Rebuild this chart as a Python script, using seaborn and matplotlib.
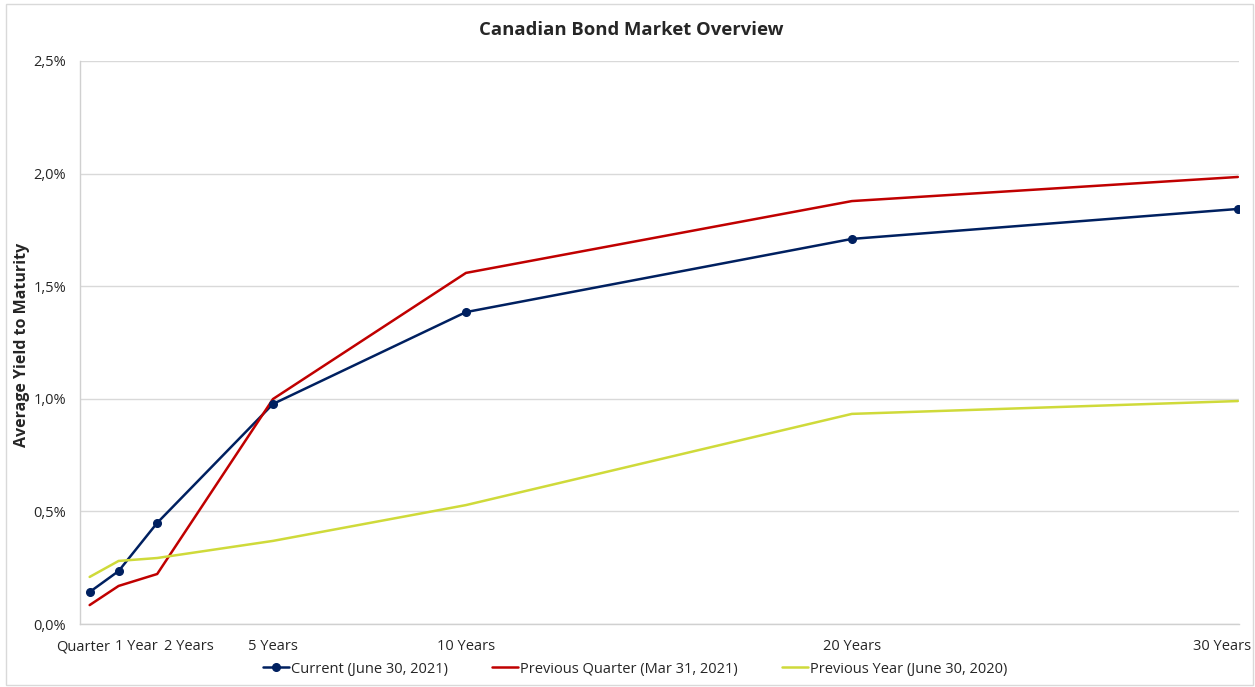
import pandas as pd
import matplotlib.pyplot as plt
import matplotlib.transforms as mtransforms
import seaborn as sns
from matplotlib.ticker import FuncFormatter
from matplotlib.patches import Rectangle

# Maturities in years and their tick labels
maturities = [0.25, 1, 2, 5, 10, 20, 30]
tick_labels = ['Quarter', '1 Year', '2 Years', '5 Years', '10 Years', '20 Years', '30 Years']

# Average yield to maturity (%)
current = [0.142, 0.235, 0.449, 0.977, 1.385, 1.710, 1.843]
previous_quarter = [0.084, 0.169, 0.222, 0.999, 1.559, 1.878, 1.985]
previous_year = [0.209, 0.280, 0.293, 0.369, 0.528, 0.933, 0.990]

series_names = ['Current (June 30, 2021)', 'Previous Quarter (Mar 31, 2021)', 'Previous Year (June 30, 2020)']
colors = ['#002060', '#C00000', '#CFDA3A']

frames = []
for name, vals in zip(series_names, [current, previous_quarter, previous_year]):
    frames.append(pd.DataFrame({'maturity': maturities, 'yield': vals, 'series': name}))
data = pd.concat(frames, ignore_index=True)

sns.set_theme(style='white')
plt.rcParams['font.family'] = ['Open Sans', 'DejaVu Sans']

fig = plt.figure(figsize=(12.55, 6.87), dpi=100)
ax = fig.add_axes([80 / 1255, 1 - 624 / 687, 1159 / 1255, 563 / 687])

sns.lineplot(
    data=data,
    x='maturity',
    y='yield',
    hue='series',
    hue_order=series_names,
    palette=colors,
    linewidth=1.8,
    legend=False,
    ax=ax,
)
# markers only on the current series
ax.plot(maturities, current, linestyle='none', marker='o', markersize=5.5, color=colors[0])

ax.set_xlim(0, 30.03)
ax.set_ylim(0, 2.5)
ax.set_xticks(maturities)
ax.set_xticklabels(tick_labels, fontsize=10.5)
ax.set_yticks([0, 0.5, 1.0, 1.5, 2.0, 2.5])
ax.yaxis.set_major_formatter(FuncFormatter(lambda v, p: f'{v:.1f}%'.replace('.', ',')))
ax.tick_params(axis='y', labelsize=10.5, length=0, pad=10)
ax.tick_params(axis='x', length=0, pad=11)

# crowded labels are nudged sideways, like the spreadsheet does
label_shift = [-7, 18, 32, 0, 0, 0, -16]
for lbl, dx in zip(ax.get_xticklabels(), label_shift):
    lbl.set_transform(lbl.get_transform() + mtransforms.ScaledTranslation(dx / 100, 0, fig.dpi_scale_trans))

ax.grid(axis='y', color='#D9D9D9', linewidth=1)
ax.set_axisbelow(True)
for side in ['top', 'right']:
    ax.spines[side].set_visible(False)
for side in ['left', 'bottom']:
    ax.spines[side].set_color('#D0D0D0')
    ax.spines[side].set_linewidth(1)

ax.set_xlabel('')
ax.set_ylabel('')
fig.text(22 / 1255, 1 - 345 / 687, 'Average Yield to Maturity', rotation=90, ha='center', va='center',
         fontsize=11.5, fontweight='bold')
fig.text(0.503, 1 - 30 / 687, 'Canadian Bond Market Overview', ha='center', va='center',
         fontsize=13.3, fontweight='bold')

# legend below the plot
handles = [
    plt.Line2D([], [], color=colors[0], linewidth=1.8, marker='o', markersize=5.5),
    plt.Line2D([], [], color=colors[1], linewidth=1.8),
    plt.Line2D([], [], color=colors[2], linewidth=1.8),
]
fig.legend(handles, series_names, loc='center', bbox_to_anchor=(0.506, 1 - 669 / 687),
           ncol=3, frameon=False, fontsize=10.5, handlelength=1.8, handletextpad=0.15,
           columnspacing=3.0)

fig.patches.append(Rectangle((6 / 1255, 2 / 687), 1247 / 1255, 681 / 687, transform=fig.transFigure,
                             fill=False, edgecolor='#D9D9D9', linewidth=1))

fig.savefig('out.png', dpi=100)
